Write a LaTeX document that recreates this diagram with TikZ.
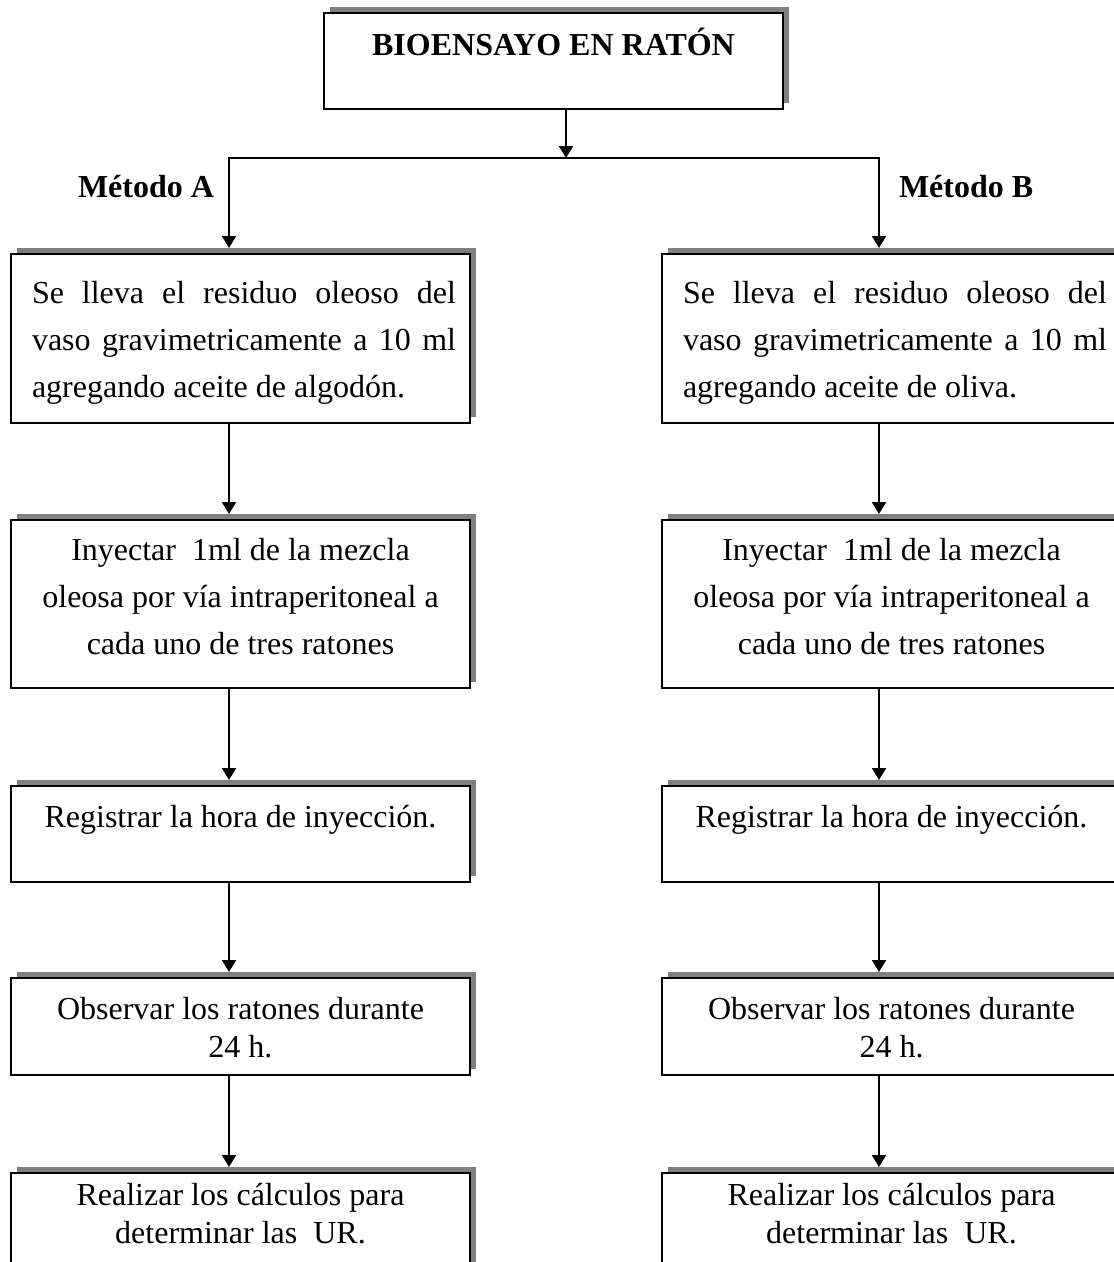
\documentclass[tikz,border=0pt]{standalone}
\usepackage{fontspec}
\setmainfont{Liberation Serif}
\usetikzlibrary{arrows.meta,shadows}
\definecolor{shgray}{RGB}{128,128,128}
\newcommand{\mylines}[3]{\vtop{\hsize=#1\parindent=0pt\parskip=0pt\fontsize{32}{#2}\selectfont #3\par}}
\begin{document}
\begin{tikzpicture}[x=1pt,y=-1pt,
  box/.style={draw=black, line width=2.2pt, fill=white, inner sep=0pt, outer sep=0pt,
    anchor=north west, minimum width=459pt,
    general shadow={fill=shgray, shadow xshift=6pt, shadow yshift=6pt}},
  txt/.style={inner sep=0pt, outer sep=0pt, anchor=base, font=\fontsize{32}{38}\selectfont},
  btxt/.style={txt, font=\bfseries\fontsize{32}{38}\selectfont},
  conn/.style={line width=2pt},
  arr/.style={conn, -{Triangle[width=14pt,length=12pt]}}]
\useasboundingbox (0,0) rectangle (1114,1262);
\clip (0,0) rectangle (1114,1262);

% title
\node[box, minimum height=96pt] (title) at (324,13) {};
\node[btxt] (titletext) at (553.5,55) {BIOENSAYO EN RATÓN};

% junction coordinates
\coordinate (jn) at (566,158);
\coordinate (jl) at (229,158);
\coordinate (jr) at (879,158);

% method labels
\node[btxt, anchor=base west] (ma) at (78,197) {Método A};
\node[btxt, anchor=base west] (mb) at (899,197) {Método B};

% left column boxes
\node[box, minimum height=169pt] (A1) at (11,254) {};
\node[box, minimum height=168pt] (A2) at (11,520) {};
\node[box, minimum height=96pt]  (A3) at (11,786) {};
\node[box, minimum height=97pt]  (A4) at (11,978) {};
\node[box, minimum height=110pt] (A5) at (11,1173) {};

% right column boxes
\node[box, minimum height=169pt] (B1) at (662,254) {};
\node[box, minimum height=168pt] (B2) at (662,520) {};
\node[box, minimum height=96pt]  (B3) at (662,786) {};
\node[box, minimum height=97pt]  (B4) at (662,978) {};
\node[box, minimum height=110pt] (B5) at (662,1173) {};

% left texts
\node[txt, anchor=base west] (tA1) at (32,303) {\mylines{424pt}{47pt}{%
  \makebox[\hsize][s]{Se lleva el residuo oleoso del}\par
  \makebox[\hsize][s]{vaso gravimetricamente a 10 ml}\par
  agregando aceite de algodón.}};
\node[txt, anchor=base west] (tA2) at (11,560) {\mylines{459pt}{47pt}{\centering
  Inyectar~~1ml de la mezcla\par
  oleosa por vía intraperitoneal a\par
  cada uno de tres ratones}};
\node[txt] (tA3) at (240.5,827) {Registrar la hora de inyección.};
\node[txt, anchor=base west] (tA4) at (11,1019) {\mylines{459pt}{38pt}{\centering
  Observar los ratones durante\par 24 h.}};
\node[txt, anchor=base west] (tA5) at (11,1205) {\mylines{459pt}{38pt}{\centering
  Realizar los cálculos para\par determinar las~~UR.}};

% right texts
\node[txt, anchor=base west] (tB1) at (683,303) {\mylines{424pt}{47pt}{%
  \makebox[\hsize][s]{Se lleva el residuo oleoso del}\par
  \makebox[\hsize][s]{vaso gravimetricamente a 10 ml}\par
  agregando aceite de oliva.}};
\node[txt, anchor=base west] (tB2) at (662,560) {\mylines{459pt}{47pt}{\centering
  Inyectar~~1ml de la mezcla\par
  oleosa por vía intraperitoneal a\par
  cada uno de tres ratones}};
\node[txt] (tB3) at (891.5,827) {Registrar la hora de inyección.};
\node[txt, anchor=base west] (tB4) at (662,1019) {\mylines{459pt}{38pt}{\centering
  Observar los ratones durante\par 24 h.}};
\node[txt, anchor=base west] (tB5) at (662,1205) {\mylines{459pt}{38pt}{\centering
  Realizar los cálculos para\par determinar las~~UR.}};

% connectors
\draw[arr] (title.south -| jn) -- (jn);
\draw[conn, line cap=rect] (jl) -- (jr);
\draw[arr] (jl) -- ([yshift=6pt]A1.north -| jl);
\draw[arr] (jr) -- ([yshift=6pt]B1.north -| jr);
\draw[arr] (A1.south -| jl) -- ([yshift=6pt]A2.north -| jl);
\draw[arr] (A2.south -| jl) -- ([yshift=6pt]A3.north -| jl);
\draw[arr] (A3.south -| jl) -- ([yshift=6pt]A4.north -| jl);
\draw[arr] (A4.south -| jl) -- ([yshift=6pt]A5.north -| jl);
\draw[arr] (B1.south -| jr) -- ([yshift=6pt]B2.north -| jr);
\draw[arr] (B2.south -| jr) -- ([yshift=6pt]B3.north -| jr);
\draw[arr] (B3.south -| jr) -- ([yshift=6pt]B4.north -| jr);
\draw[arr] (B4.south -| jr) -- ([yshift=6pt]B5.north -| jr);
\end{tikzpicture}
\end{document}
